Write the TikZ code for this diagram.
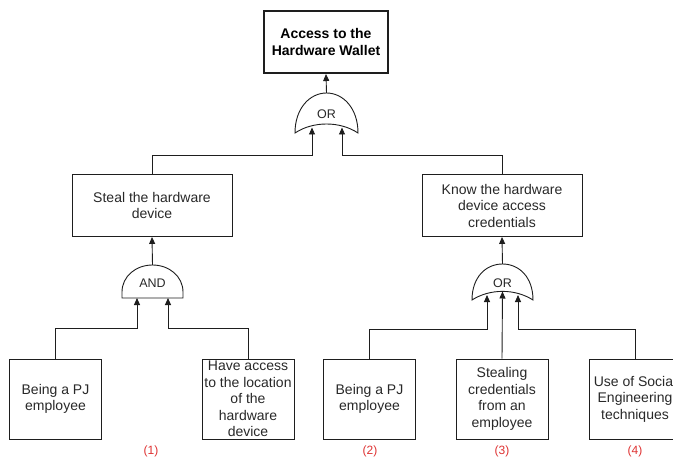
\documentclass[tikz,border=0pt]{standalone}
\usepackage{fontspec}
\setmainfont{Liberation Sans}
\usetikzlibrary{arrows.meta}

\definecolor{edge}{RGB}{30,30,30}
\definecolor{ink}{RGB}{40,40,40}
\definecolor{tag}{RGB}{222,50,50}

\begin{document}
\begin{tikzpicture}[x=1pt,y=-1pt,
  box/.style={draw=edge, line width=0.9pt, inner sep=0pt, align=center,
    text=ink, font=\fontsize{14}{16.5}\selectfont},
  goalbox/.style={box, line width=2pt, font=\bfseries\fontsize{14}{17}\selectfont, text=black},
  leaf/.style={box, minimum width=92pt, minimum height=80pt},
  midbox/.style={box, minimum width=160pt, minimum height=62pt},
  gate/.style={draw=edge, line width=0.9pt, fill=white},
  gatelabel/.style={inner sep=0pt, text=ink, font=\fontsize{12.5}{14}\selectfont},
  wire/.style={draw=edge, line width=0.9pt},
  feed/.style={wire, -{Triangle[length=7pt,width=6pt]}},
  tagtext/.style={text=tag, font=\fontsize{12}{14}\selectfont}]

\useasboundingbox (0,0) rectangle (673,460);
\clip (0,0) rectangle (673,460);

% ---- boxes ----
\node[goalbox, minimum width=124pt, minimum height=62pt] (goal) at (326,42)
  {Access to the\\Hardware Wallet};
\node[midbox] (steal) at (152,205.5) {Steal the hardware\\device};
\node[midbox] (know) at (502,205.5) {Know the hardware\\device access\\credentials};

\node[leaf] (emp1) at (55.5,399) {Being a PJ\\employee};
\node[leaf] (loc) at (248,399) {Have access\\to the location\\of the\\hardware\\device};
\node[leaf] (emp2) at (369.5,399) {Being a PJ\\employee};
\node[leaf] (cred) at (502,399) {Stealing\\credentials\\from an\\employee};
\node[leaf] (soc) at (635,399) {Use of Social\\Engineering\\techniques};

% ---- top OR gate ----
\draw[gate] (295,133) .. controls (295,108) and (310,93) .. (326.5,93)
  .. controls (343,93) and (358,108) .. (358,133)
  .. controls (340,121) and (313,121) .. cycle;
\node[gatelabel] (or1) at (326.5,114) {OR};
\coordinate (or1out) at (326.5,93);
\coordinate (or1a) at (312,127.5);
\coordinate (or1b) at (342,127.5);

% ---- AND gate ----
\draw[gate] (122,298) -- (122,292)
  .. controls (122,276.5) and (135.7,265) .. (152.5,265)
  .. controls (169.3,265) and (183,276.5) .. (183,292) -- (183,298) -- cycle;
\node[gatelabel] (and1) at (152.5,283) {AND};
\coordinate (and1out) at (152.5,265);
\coordinate (and1a) at (137,298);
\coordinate (and1b) at (168,298);

% ---- right OR gate ----
\draw[gate] (472,300) .. controls (472,277) and (486,264) .. (502.5,264)
  .. controls (519,264) and (533,277) .. (533,300)
  .. controls (515,288.5) and (490,288.5) .. cycle;
\node[gatelabel] (or2) at (502.5,283) {OR};
\coordinate (or2out) at (502.5,264);
\coordinate (or2a) at (487,295);
\coordinate (or2b) at (502.5,291.5);
\coordinate (or2c) at (518,295);

% ---- connectors ----
\draw[feed] (or1out) -- (goal.south);
\draw[feed] (steal.north) |- (312,155) -- (or1a);
\draw[feed] (know.north) |- (342,155) -- (or1b);

\draw[feed] (and1out) -- (steal.south);
\draw[feed] (emp1.north) |- (137,328) -- (and1a);
\draw[feed] (loc.north) |- (168,328) -- (and1b);

\draw[feed] (or2out) -- (know.south);
\draw[feed] (emp2.north) |- (487,329) -- (or2a);
\draw[feed] (cred.north) -- (or2b);
\draw[feed] (soc.north) |- (518,329) -- (or2c);

% ---- case numbers ----
\node[tagtext] (n1) at (151,451) {(1)};
\node[tagtext] (n2) at (370,451) {(2)};
\node[tagtext] (n3) at (502,451) {(3)};
\node[tagtext] (n4) at (635,451) {(4)};
\end{tikzpicture}
\end{document}
